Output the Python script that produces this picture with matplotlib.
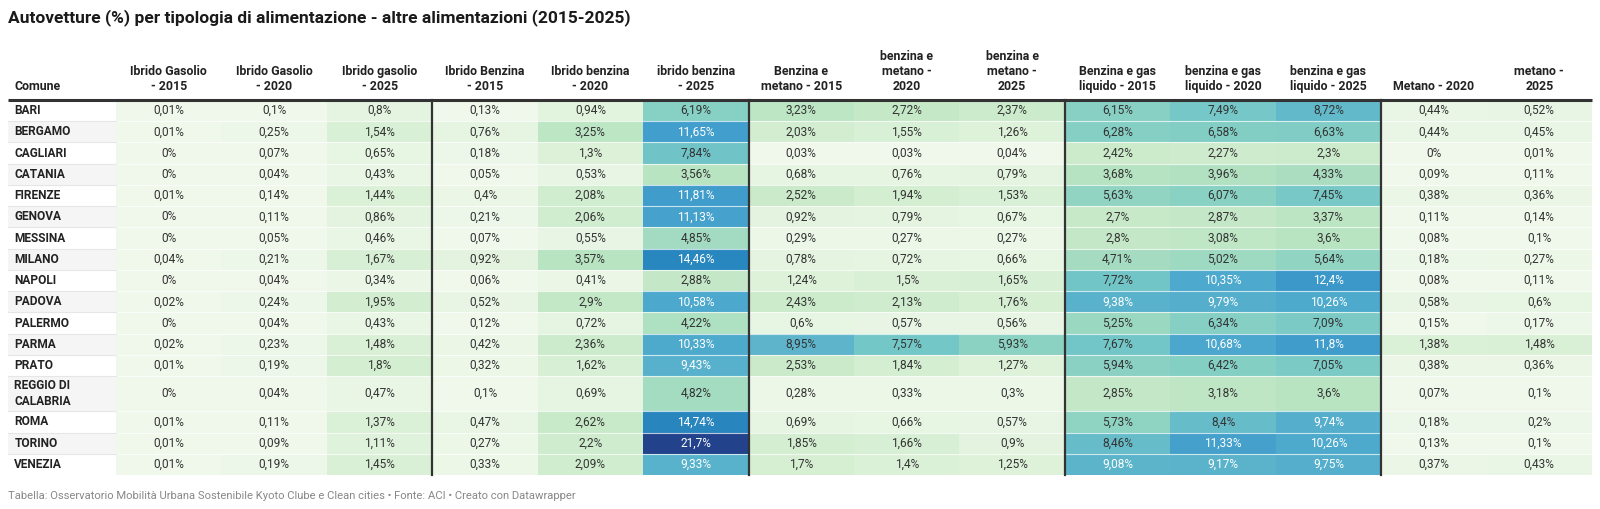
import numpy as np
import matplotlib
matplotlib.use('Agg')
import matplotlib.pyplot as plt
from matplotlib.colors import LinearSegmentedColormap, Normalize

plt.rcParams['font.family'] = ['Roboto', 'DejaVu Sans']

# data
comuni = ['BARI', 'BERGAMO', 'CAGLIARI', 'CATANIA', 'FIRENZE', 'GENOVA', 'MESSINA',
          'MILANO', 'NAPOLI', 'PADOVA', 'PALERMO', 'PARMA', 'PRATO',
          'REGGIO DI\nCALABRIA', 'ROMA', 'TORINO', 'VENEZIA']

colonne = ['Ibrido Gasolio\n- 2015', 'Ibrido Gasolio\n- 2020', 'Ibrido gasolio\n- 2025',
           'Ibrido Benzina\n- 2015', 'Ibrido benzina\n- 2020', 'ibrido benzina\n- 2025',
           'Benzina e\nmetano - 2015', 'benzina e\nmetano -\n2020', 'benzina e\nmetano -\n2025',
           'Benzina e gas\nliquido - 2015', 'benzina e gas\nliquido - 2020', 'benzina e gas\nliquido - 2025',
           'Metano - 2020', 'metano -\n2025']

ig15 = [0.01, 0.01, 0, 0, 0.01, 0, 0, 0.04, 0, 0.02, 0, 0.02, 0.01, 0, 0.01, 0.01, 0.01]
ig20 = [0.1, 0.25, 0.07, 0.04, 0.14, 0.11, 0.05, 0.21, 0.04, 0.24, 0.04, 0.23, 0.19, 0.04, 0.11, 0.09, 0.19]
ig25 = [0.8, 1.54, 0.65, 0.43, 1.44, 0.86, 0.46, 1.67, 0.34, 1.95, 0.43, 1.48, 1.8, 0.47, 1.37, 1.11, 1.45]
ib15 = [0.13, 0.76, 0.18, 0.05, 0.4, 0.21, 0.07, 0.92, 0.06, 0.52, 0.12, 0.42, 0.32, 0.1, 0.47, 0.27, 0.33]
ib20 = [0.94, 3.25, 1.3, 0.53, 2.08, 2.06, 0.55, 3.57, 0.41, 2.9, 0.72, 2.36, 1.62, 0.69, 2.62, 2.2, 2.09]
ib25 = [6.19, 11.65, 7.84, 3.56, 11.81, 11.13, 4.85, 14.46, 2.88, 10.58, 4.22, 10.33, 9.43, 4.82, 14.74, 21.7, 9.33]
bm15 = [3.23, 2.03, 0.03, 0.68, 2.52, 0.92, 0.29, 0.78, 1.24, 2.43, 0.6, 8.95, 2.53, 0.28, 0.69, 1.85, 1.7]
bm20 = [2.72, 1.55, 0.03, 0.76, 1.94, 0.79, 0.27, 0.72, 1.5, 2.13, 0.57, 7.57, 1.84, 0.33, 0.66, 1.66, 1.4]
bm25 = [2.37, 1.26, 0.04, 0.79, 1.53, 0.67, 0.27, 0.66, 1.65, 1.76, 0.56, 5.93, 1.27, 0.3, 0.57, 0.9, 1.25]
bg15 = [6.15, 6.28, 2.42, 3.68, 5.63, 2.7, 2.8, 4.71, 7.72, 9.38, 5.25, 7.67, 5.94, 2.85, 5.73, 8.46, 9.08]
bg20 = [7.49, 6.58, 2.27, 3.96, 6.07, 2.87, 3.08, 5.02, 10.35, 9.79, 6.34, 10.68, 6.42, 3.18, 8.4, 11.33, 9.17]
bg25 = [8.72, 6.63, 2.3, 4.33, 7.45, 3.37, 3.6, 5.64, 12.4, 10.26, 7.09, 11.8, 7.05, 3.6, 9.74, 10.26, 9.75]
me20 = [0.44, 0.44, 0, 0.09, 0.38, 0.11, 0.08, 0.18, 0.08, 0.58, 0.15, 1.38, 0.38, 0.07, 0.18, 0.13, 0.37]
me25 = [0.52, 0.45, 0.01, 0.11, 0.36, 0.14, 0.1, 0.27, 0.11, 0.6, 0.17, 1.48, 0.36, 0.1, 0.2, 0.1, 0.43]

valori = np.array([ig15, ig20, ig25, ib15, ib20, ib25, bm15, bm20, bm25,
                   bg15, bg20, bg25, me20, me25]).T   # righe = comuni

titolo = 'Autovetture (%) per tipologia di alimentazione - altre alimentazioni (2015-2025)'
nota = 'Tabella: Osservatorio Mobilità Urbana Sostenibile Kyoto Clube e Clean cities • Fonte: ACI • Creato con Datawrapper'

# scala colori (tipo GnBu di Datawrapper)
vmax = 21.7
stops = [(0, '#f0f8ec'), (1.3, '#dcf1d8'), (2.5, '#c9eac9'), (3.5, '#b9e4c2'),
         (4.85, '#a2dbc1'), (6.0, '#89d1c3'), (7.6, '#74c7c7'), (8.95, '#5eb5cb'),
         (10.5, '#4ca8cd'), (11.65, '#429ecc'), (14.6, '#2886bf'), (21.7, '#23428c')]
cmap = LinearSegmentedColormap.from_list('dw', [(v / vmax, c) for v, c in stops])
norm = Normalize(0, vmax)

W, H = 1600, 509
fig = plt.figure(figsize=(W / 100, H / 100), dpi=100)

# area tabella in pixel
x0, x1 = 8, 1592
xc = 116
y0, y1 = 100, 475
ncol = len(colonne)
colw = (x1 - xc) / ncol
lab_w = (xc - x0) / colw

ax = fig.add_axes([x0 / W, 1 - y1 / H, (x1 - x0) / W, (y1 - y0) / H])
ax.axis('off')

row_h = np.array([1.65 if '\n' in c else 1.0 for c in comuni])
yedges = np.concatenate([[0], np.cumsum(row_h)])
ymid = (yedges[:-1] + yedges[1:]) / 2
xedges = np.arange(ncol + 1)

ax.pcolormesh(xedges, yedges, valori, cmap=cmap, norm=norm)
ax.set_xlim(-lab_w, ncol)
ax.set_ylim(yedges[-1], 0)

# colonna comuni a righe alternate
for i, nome in enumerate(comuni):
    if i % 2 == 1:
        ax.axhspan(yedges[i], yedges[i + 1], xmin=0, xmax=lab_w / (lab_w + ncol),
                   color='#f5f5f5', lw=0)
    ax.text(-lab_w + 0.06, ymid[i], nome, ha='left', va='center', fontsize=8.6,
            fontweight='bold', color='#222222', linespacing=1.3)
    for j in range(ncol):
        v = valori[i, j]
        s = f'{v:g}'.replace('.', ',') + '%'
        ax.text(j + 0.5, ymid[i], s, ha='center', va='center', fontsize=8.6,
                color='white' if v > 9 else '#333333')

# separatori righe
for y in yedges[1:-1]:
    ax.plot([-lab_w, ncol], [y, y], color='white', lw=0.8, alpha=0.7)
    ax.plot([-lab_w, 0], [y, y], color='#e6e6e6', lw=0.8)

# separatori gruppi
for x in [3, 6, 9, 12]:
    ax.plot([x, x], [0, yedges[-1]], color='#333333', lw=1.6, clip_on=False)

# intestazione
ax.plot([-lab_w, ncol], [0, 0], color='#333333', lw=2.2, clip_on=False, solid_capstyle='butt')
ax.text(-lab_w + 0.06, -0.35, 'Comune', ha='left', va='bottom', fontsize=8.9,
        fontweight='bold', color='#222222', clip_on=False)
for j, c in enumerate(colonne):
    ax.text(j + 0.5, -0.35, c, ha='center', va='bottom', fontsize=8.9,
            fontweight='bold', color='#222222', linespacing=1.2, clip_on=False)

fig.text(8 / W, 1 - 18 / H, titolo, ha='left', va='center', fontsize=12.5,
         fontweight='bold', color='#1a1a1a')
fig.text(8 / W, 1 - 496 / H, nota, ha='left', va='center', fontsize=8.1, color='#888888')

fig.savefig('out.png', dpi=100)
